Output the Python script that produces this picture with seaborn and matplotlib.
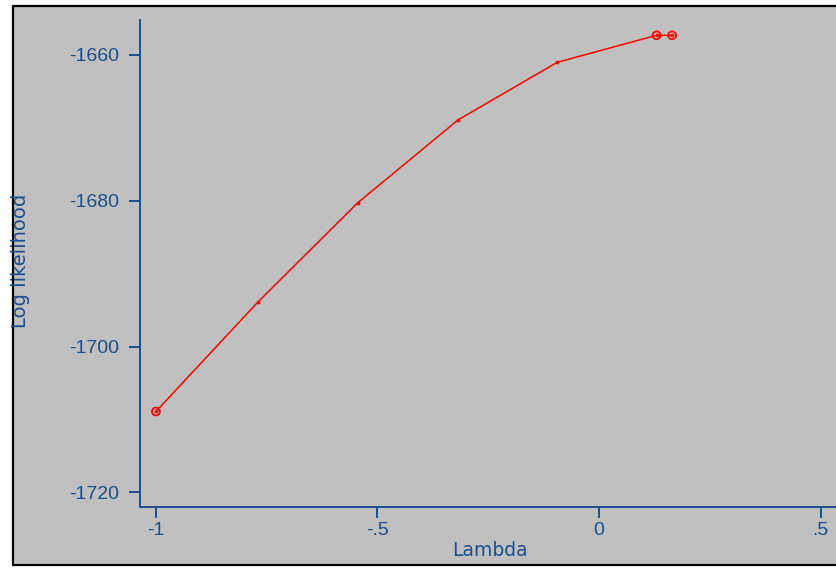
import numpy as np
import pandas as pd
import matplotlib
matplotlib.use("Agg")
import matplotlib.pyplot as plt
import seaborn as sns
from matplotlib.patches import Rectangle

# --- data ---
lam = [-1.0, -0.77, -0.545, -0.318, -0.094, 0.13, 0.165]
loglik = [-1708.9, -1693.9, -1680.3, -1668.9, -1661.0, -1657.3, -1657.3]
circled = [0, 5, 6]  # points drawn with hollow circles

xticks = [-1, -0.5, 0, 0.5]
xtick_labels = ["-1", "-.5", "0", ".5"]
yticks = [-1720, -1700, -1680, -1660]
ytick_labels = ["-1720", "-1700", "-1680", "-1660"]

df = pd.DataFrame({"lambda": lam, "loglik": loglik})

sns.set_style("white")
plt.rcParams["font.family"] = ["Liberation Sans", "DejaVu Sans"]
plt.rcParams["axes.unicode_minus"] = False

blue = "#1c4f8c"
gray = "#c0c0c0"

fig = plt.figure(figsize=(8.36, 5.68), dpi=100)
fig.patch.set_facecolor("white")

# gray panel with black frame (right side runs off the image)
W, H = 836, 568
fig.patches.append(Rectangle((13 / W, 1 - 565 / H), 1.0, (565 - 6) / H,
                             transform=fig.transFigure, facecolor=gray,
                             edgecolor="black", linewidth=1.6, zorder=-10))

ax = fig.add_axes([140 / W, 1 - 507 / H, (840 - 140) / W, (507 - 20) / H])
ax.patch.set_alpha(0)

sns.lineplot(data=df, x="lambda", y="loglik", color="red", linewidth=1.1,
             marker="o", markersize=2, markeredgecolor="red", ax=ax)
sns.scatterplot(data=df.iloc[circled], x="lambda", y="loglik", marker="o",
                facecolor="none", edgecolor="red", linewidth=1.3, s=32, ax=ax,
                zorder=5)

ax.set_xlim(-1.036, 0.544)
ax.set_ylim(-1722.0, -1655.2)
ax.set_xticks(xticks)
ax.set_xticklabels(xtick_labels)
ax.set_yticks(yticks)
ax.set_yticklabels(ytick_labels)

for side in ["top", "right"]:
    ax.spines[side].set_visible(False)
for side in ["left", "bottom"]:
    ax.spines[side].set_color(blue)
    ax.spines[side].set_linewidth(1.4)

ax.tick_params(axis="both", colors=blue, direction="out", length=8,
               width=1.4, labelsize=14, bottom=True, left=True)
ax.tick_params(axis="y", pad=7)
ax.tick_params(axis="x", pad=3)

ax.set_xlabel("Lambda", color=blue, fontsize=13.5, family="DejaVu Sans",
              labelpad=1)
ax.set_ylabel("Log likelihood", color=blue, fontsize=14, family="DejaVu Sans")
ax.yaxis.set_label_coords((30 - 140) / 700, 0.505)

fig.savefig("out.png", dpi=100, facecolor=fig.get_facecolor())
